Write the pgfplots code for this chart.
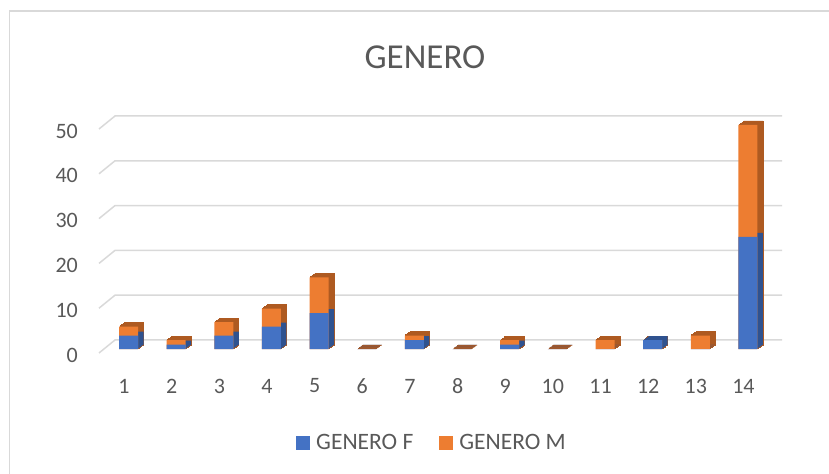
\documentclass[border=0pt]{standalone}
\usepackage{pgfplots}
\pgfplotsset{compat=1.18}
\usepackage{pgfplotstable}
\usepackage{fontspec}
\setmainfont{Carlito}
\definecolor{txt}{HTML}{595959}
\definecolor{gridc}{HTML}{D9D9D9}
\definecolor{cF}{HTML}{4472C4}
\definecolor{cM}{HTML}{ED7D31}
\definecolor{dF}{HTML}{2F528F}
\definecolor{dM}{HTML}{AE5A21}

\pgfplotstableread{
x F M T
1 3 2 5
2 1 1 2
3 3 3 6
4 5 4 9
5 8 8 16
6 0 0 0
7 2 1 3
8 0 0 0
9 1 1 2
10 0 0 0
11 0 2 2
12 2 0 2
13 0 3 3
14 25 25 50
}\data

\begin{document}
\begin{tikzpicture}
\useasboundingbox (0bp,0bp) rectangle (829bp,474bp);
\draw[gridc, line width=1.2bp] (9.5bp,463bp) rectangle (860bp,-30bp);
\node[text=txt, inner sep=0pt, font=\fontsize{35bp}{40bp}\selectfont] at (425bp,417bp) {GENERO};
\begin{axis}[
  at={(104.7bp,125bp)}, anchor=south west,
  scale only axis, width=667.1bp, height=224bp,
  xmin=0.5, xmax=14.5, ymin=0, ymax=50,
  clip=false,
  axis line style={draw=none},
  major tick length=0pt,
  xtick={1,...,14}, ytick={0,10,...,50},
  ticklabel style={font=\fontsize{22bp}{26bp}\selectfont, text=txt, inner sep=0pt},
  xticklabel style={anchor=center, yshift=-37bp, xshift=-4.5bp},
  yticklabel style={anchor=east, xshift=-26.7bp, yshift=-6bp},
  /pgf/number format/assume math mode=true,
  ybar, bar width=19bp,
  legend style={at={(0.2868,-0.4196)}, anchor=west, draw=none, fill=none,
    inner sep=0pt, font=\fontsize{23.5bp}{27bp}\selectfont, text=txt,
    nodes={inner sep=0pt},
    /tikz/every odd column/.append style={column sep=6bp},
    /tikz/every even column/.append style={column sep=26bp}},
  legend columns=2,
  sq legend/.style={legend image code/.code={\fill[##1] (0bp,-7bp) rectangle (14bp,7bp);}},
  darkM/.style={fill=dM, draw=dM, line width=0.8bp, forget plot},
  darkF/.style={fill=dF, draw=none, forget plot},
]
% grid (3D floor/back wall lines)
\pgfplotsinvokeforeach{0,10,20,30,40,50}{
  \draw[gridc, line width=1.5bp]
    ([shift={(-5.7bp,-4bp)}]axis cs:0.5,#1) --
    ([shift={(10.3bp,9bp)}]axis cs:0.5,#1) --
    ([shift={(10.3bp,9bp)}]axis cs:14.5,#1);
}
% depth (dark) faces: stacked copies give a slanted side and top
\addplot[darkM, bar shift=0.92bp, yshift=0.67bp] table[x=x, y=T] {\data};
\addplot[darkM, bar shift=1.83bp, yshift=1.33bp] table[x=x, y=T] {\data};
\addplot[darkM, bar shift=2.75bp, yshift=2bp] table[x=x, y=T] {\data};
\addplot[darkM, bar shift=3.67bp, yshift=2.67bp] table[x=x, y=T] {\data};
\addplot[darkM, bar shift=4.58bp, yshift=3.33bp] table[x=x, y=T] {\data};
\addplot[darkM, bar shift=5.5bp, yshift=4bp] table[x=x, y=T] {\data};
\addplot[darkF, bar shift=0.92bp, yshift=0.67bp] table[x=x, y=F] {\data};
\addplot[darkF, bar shift=1.83bp, yshift=1.33bp] table[x=x, y=F] {\data};
\addplot[darkF, bar shift=2.75bp, yshift=2bp] table[x=x, y=F] {\data};
\addplot[darkF, bar shift=3.67bp, yshift=2.67bp] table[x=x, y=F] {\data};
\addplot[darkF, bar shift=4.58bp, yshift=3.33bp] table[x=x, y=F] {\data};
\addplot[darkF, bar shift=5.5bp, yshift=4bp] table[x=x, y=F] {\data};
% front faces
\addplot[fill=cM, draw=none, bar shift=0pt, forget plot] table[x=x, y=T] {\data};
\addplot[fill=cF, draw=none, bar shift=0pt, sq legend] table[x=x, y=F] {\data};
\addlegendentry{GENERO F}
\addlegendimage{fill=cM, draw=none, sq legend}
\addlegendentry{GENERO M}
\end{axis}
\end{tikzpicture}
\end{document}
